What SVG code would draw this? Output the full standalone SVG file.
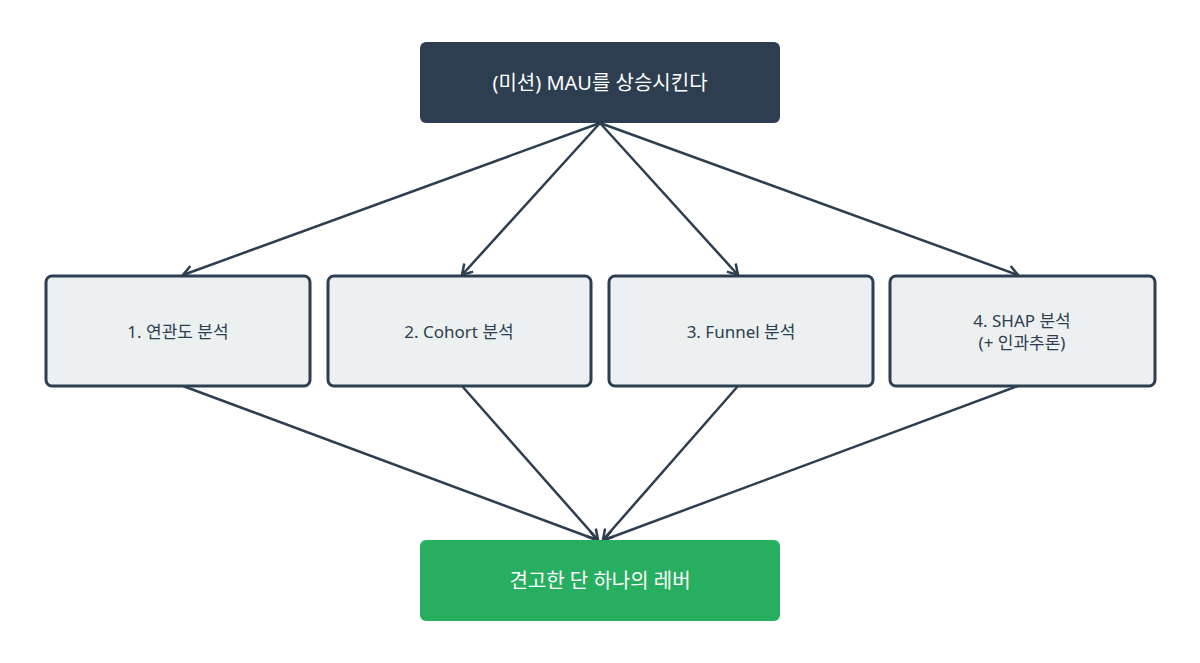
<svg xmlns="http://www.w3.org/2000/svg" width="1200" height="663" viewBox="0 0 1200 663">
<style>
text{font-family:"Noto Sans","Noto Sans CJK KR",sans-serif;font-size:18px;text-anchor:middle;dominant-baseline:central}
.mid rect{fill:#ecf0f1;stroke:#2c3e50;stroke-width:3}
.mid text{fill:#2c3e50;font-size:17px}
.light{fill:#ffffff;font-size:20px}
.c line{stroke:#2c3e50;stroke-width:2.5;marker-end:url(#a)}
</style>
<defs><marker id="a" markerWidth="14" markerHeight="14" refX="11" refY="7" orient="auto" markerUnits="userSpaceOnUse"><path d="M1,1 L11,7 L1,13" fill="none" stroke="#2c3e50" stroke-width="2.5"/></marker></defs>
<rect width="1200" height="663" fill="#fff"/>
<g class="c">
<line x1="600" y1="123" x2="183" y2="275"/>
<line x1="600" y1="123" x2="462" y2="275"/>
<line x1="600" y1="123" x2="738" y2="275"/>
<line x1="600" y1="123" x2="1018" y2="275"/>
<line x1="183" y1="386" x2="597" y2="540"/>
<line x1="462" y1="386" x2="598" y2="540"/>
<line x1="738" y1="386" x2="603" y2="540"/>
<line x1="1018" y1="386" x2="604" y2="540"/>
</g>
<g id="mission"><rect x="420" y="42" width="360" height="81" rx="6" fill="#2c3e50"/><text class="light" x="600" y="82">(미션) MAU를 상승시킨다</text></g>
<g id="n1" class="mid"><rect x="46" y="276" width="264" height="110" rx="6"/><text x="178" y="331">1. 연관도 분석</text></g>
<g id="n2" class="mid"><rect x="328" y="276" width="263" height="110" rx="6"/><text x="459" y="331">2. Cohort 분석</text></g>
<g id="n3" class="mid"><rect x="609" y="276" width="264" height="110" rx="6"/><text x="741" y="331">3. Funnel 분석</text></g>
<g id="n4" class="mid"><rect x="890" y="276" width="265" height="110" rx="6"/><text x="1022" y="320">4. SHAP 분석</text><text x="1022" y="342">(+ 인과추론)</text></g>
<g id="lever"><rect x="420" y="540" width="360" height="81" rx="6" fill="#27ae60"/><text class="light" x="600" y="580">견고한 단 하나의 레버</text></g>
</svg>
